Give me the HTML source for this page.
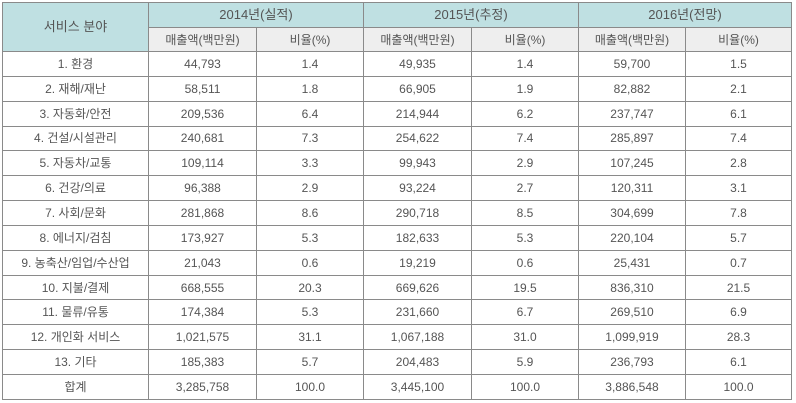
<!DOCTYPE html><html><head><meta charset="utf-8"><style>
body{margin:0;background:#fff;}
table{position:absolute;left:2px;top:2px;border-collapse:collapse;table-layout:fixed;font-family:"Liberation Sans","Noto Sans CJK KR",sans-serif;font-size:12px;color:#555;}
td{border:1px solid #8a8a8a;text-align:center;padding:0;height:23.85px;white-space:nowrap;line-height:14px;}
.h1 td{background:#bfe0e2;height:24px;font-size:13px;}
.h2 td{background:#eeeeee;height:23px;}
td.s{background:#bfe0e2;font-size:13px;}
</style></head><body>
<table>
<colgroup><col style="width:146px"><col style="width:108px"><col style="width:107px"><col style="width:108px"><col style="width:107px"><col style="width:107px"><col style="width:106px"></colgroup>
<tr class="h1"><td rowspan="2" class="s">서비스 분야</td><td colspan="2">2014년(실적)</td><td colspan="2">2015년(추정)</td><td colspan="2">2016년(전망)</td></tr>
<tr class="h2"><td>매출액(백만원)</td><td>비율(%)</td><td>매출액(백만원)</td><td>비율(%)</td><td>매출액(백만원)</td><td>비율(%)</td></tr>
<tr><td>1. 환경</td><td>44,793</td><td>1.4</td><td>49,935</td><td>1.4</td><td>59,700</td><td>1.5</td></tr>
<tr><td>2. 재해/재난</td><td>58,511</td><td>1.8</td><td>66,905</td><td>1.9</td><td>82,882</td><td>2.1</td></tr>
<tr><td>3. 자동화/안전</td><td>209,536</td><td>6.4</td><td>214,944</td><td>6.2</td><td>237,747</td><td>6.1</td></tr>
<tr><td>4. 건설/시설관리</td><td>240,681</td><td>7.3</td><td>254,622</td><td>7.4</td><td>285,897</td><td>7.4</td></tr>
<tr><td>5. 자동차/교통</td><td>109,114</td><td>3.3</td><td>99,943</td><td>2.9</td><td>107,245</td><td>2.8</td></tr>
<tr><td>6. 건강/의료</td><td>96,388</td><td>2.9</td><td>93,224</td><td>2.7</td><td>120,311</td><td>3.1</td></tr>
<tr><td>7. 사회/문화</td><td>281,868</td><td>8.6</td><td>290,718</td><td>8.5</td><td>304,699</td><td>7.8</td></tr>
<tr><td>8. 에너지/검침</td><td>173,927</td><td>5.3</td><td>182,633</td><td>5.3</td><td>220,104</td><td>5.7</td></tr>
<tr><td>9. 농축산/임업/수산업</td><td>21,043</td><td>0.6</td><td>19,219</td><td>0.6</td><td>25,431</td><td>0.7</td></tr>
<tr><td>10. 지불/결제</td><td>668,555</td><td>20.3</td><td>669,626</td><td>19.5</td><td>836,310</td><td>21.5</td></tr>
<tr><td>11. 물류/유통</td><td>174,384</td><td>5.3</td><td>231,660</td><td>6.7</td><td>269,510</td><td>6.9</td></tr>
<tr><td>12. 개인화 서비스</td><td>1,021,575</td><td>31.1</td><td>1,067,188</td><td>31.0</td><td>1,099,919</td><td>28.3</td></tr>
<tr><td>13. 기타</td><td>185,383</td><td>5.7</td><td>204,483</td><td>5.9</td><td>236,793</td><td>6.1</td></tr>
<tr><td>합계</td><td>3,285,758</td><td>100.0</td><td>3,445,100</td><td>100.0</td><td>3,886,548</td><td>100.0</td></tr>
</table></body></html>
